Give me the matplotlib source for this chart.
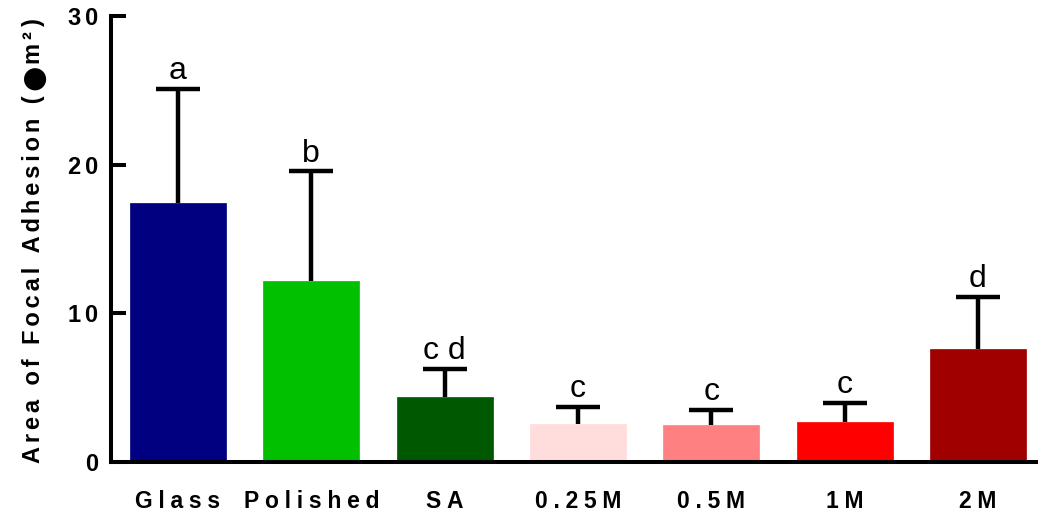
import matplotlib
matplotlib.use("Agg")
import matplotlib.pyplot as plt
from matplotlib.transforms import IdentityTransform
import numpy as np

categories = ["Glass", "Polished", "SA", "0.25M", "0.5M", "1M", "2M"]
means = [17.4, 12.15, 4.38, 2.56, 2.49, 2.7, 7.62]
err_upper = [7.7, 7.4, 1.9, 1.15, 1.0, 1.28, 3.5]
letters = ["a", "b", "c d", "c", "c", "c", "d"]
colors = ["#000080", "#00C000", "#005800", "#FFDDDD", "#FF8080", "#FF0000", "#A00000"]
yticks = [0, 10, 20, 30]
ylabel_parts = ["Area of Focal Adhesion (", "●", "m²", ")"]

FAM = ["Liberation Sans", "DejaVu Sans"]
plt.rcParams["font.family"] = FAM
SP = "\u2006"
SPX = "\u2005"


def spaced(s, sp=SP):
    return sp.join(list(s))


fig = plt.figure(figsize=(10.38, 5.18), dpi=100)
ax = fig.add_axes([111 / 1038, 1 - 462 / 518, 1 - 111 / 1038, (462 - 16) / 518])

x = np.arange(len(categories))
means_a = np.array(means)
err_a = np.array(err_upper)
ax.bar(x, means_a, width=0.72, color=colors, edgecolor=colors, linewidth=0.5, zorder=2)
ax.vlines(x, means_a, means_a + err_a, color="black", linewidth=3.2, zorder=3)
ax.hlines(means_a + err_a, x - 0.165, x + 0.165, color="black", linewidth=3.2, zorder=3)

for xi, top, lab in zip(x, means_a + err_a, letters):
    ax.annotate(lab, (xi, top), xytext=(0, 7), textcoords="offset points",
                ha="center", va="baseline", fontsize=23, color="black")

ax.set_xlim(-0.502, 6.45)
ax.set_ylim(0, 30)

for s in ["top", "right"]:
    ax.spines[s].set_visible(False)
for s in ["left", "bottom"]:
    ax.spines[s].set_linewidth(2.9)

ax.set_yticks(yticks)
ax.set_yticklabels([spaced(str(t)) for t in yticks], fontsize=17, fontweight="bold")
ax.tick_params(axis="y", direction="in", length=11, width=2.9, pad=9)
ax.set_xticks(x)
ax.set_xticklabels([spaced(c, SPX) for c in categories], fontsize=16.5, fontweight="bold")
ax.tick_params(axis="x", length=0, pad=20)

# y-axis label built from pieces so the large dot glyph matches the original
renderer = fig.canvas.get_renderer()
ident = IdentityTransform()
base_x, y0 = 40, 518 - 463
t1 = fig.text(base_x, y0, spaced(ylabel_parts[0]) + SP, rotation=90,
              rotation_mode="anchor", ha="left", va="baseline", transform=ident,
              fontsize=17, fontweight="bold")
bb = t1.get_window_extent(renderer)
t2 = fig.text(base_x + 2, bb.y1 + 1, ylabel_parts[1], rotation=90,
              rotation_mode="anchor", ha="left", va="baseline", transform=ident,
              fontsize=21, family="DejaVu Sans")
bb2 = t2.get_window_extent(renderer)
t3 = fig.text(base_x, bb2.y1 + 1, spaced(ylabel_parts[2]), rotation=90,
              rotation_mode="anchor", ha="left", va="baseline", transform=ident,
              fontsize=17, fontweight="bold")
bb3 = t3.get_window_extent(renderer)
fig.text(base_x, bb3.y1 + 5, ylabel_parts[3], rotation=90,
         rotation_mode="anchor", ha="left", va="baseline", transform=ident,
         fontsize=17, fontweight="bold")

fig.savefig("out.png", dpi=100)
